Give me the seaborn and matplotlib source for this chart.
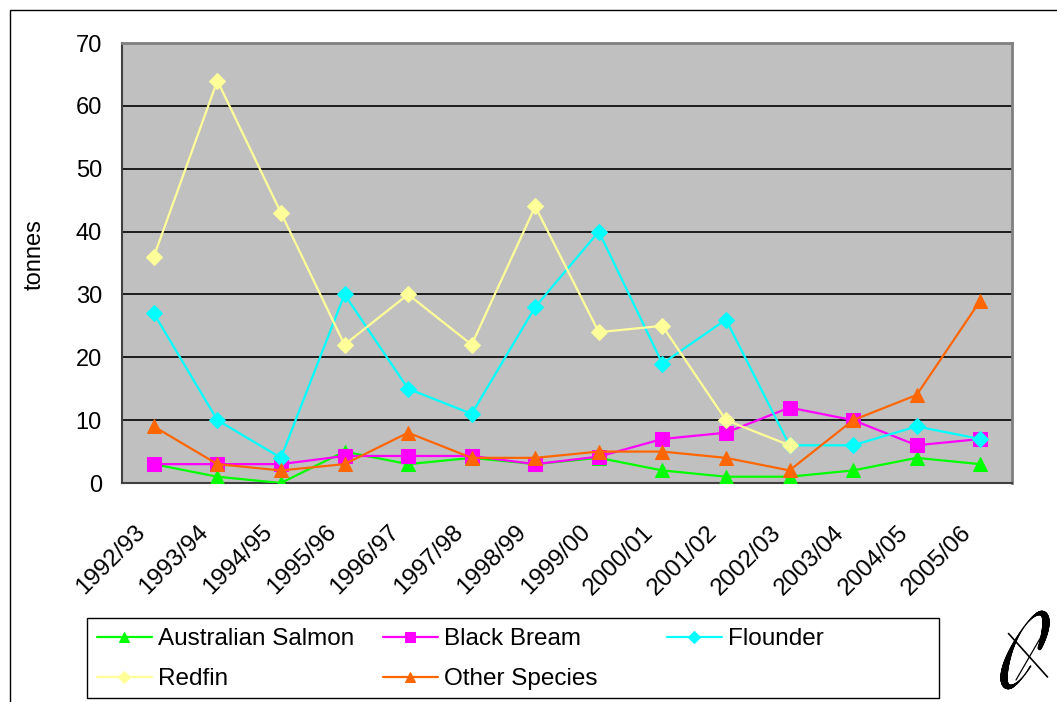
import numpy as np
import pandas as pd
import matplotlib
matplotlib.use("Agg")
import matplotlib.pyplot as plt
import matplotlib.patches as mpatches
import matplotlib.transforms as mtransforms
from matplotlib.collections import LineCollection
import seaborn as sns

seasons = ["1992/93", "1993/94", "1994/95", "1995/96", "1996/97", "1997/98", "1998/99",
           "1999/00", "2000/01", "2001/02", "2002/03", "2003/04", "2004/05", "2005/06"]
australian_salmon = [3, 1, 0, 5, 3, 4, 3, 4, 2, 1, 1, 2, 4, 3]
black_bream = [3, 3, 3, 4.3, 4.3, 4.3, 3, 4.2, 7, 8, 12, 10, 6, 7]
flounder = [27, 10, 4, 30, 15, 11, 28, 40, 19, 26, 6, 6, 9, 7]
redfin = [36, 64, 43, 22, 30, 22, 44, 24, 25, 10, 6, np.nan, np.nan, np.nan]
other_species = [9, 3, 2, 3, 8, 4, 4, 5, 5, 4, 2, 10, 14, 29]
yticks = [0, 10, 20, 30, 40, 50, 60, 70]

series = [
    ("Australian Salmon", australian_salmon, "#00FF00", "^"),
    ("Black Bream", black_bream, "#FF00FF", "s"),
    ("Flounder", flounder, "#00FFFF", "D"),
    ("Redfin", redfin, "#FFFF99", "D"),
    ("Other Species", other_species, "#FF6600", "^"),
]

sns.set_style("white")
plt.rcParams["font.family"] = ["Liberation Sans", "DejaVu Sans"]
plt.rcParams["text.color"] = "black"
plt.rcParams["xtick.color"] = "black"
plt.rcParams["ytick.color"] = "black"
plt.rcParams["axes.labelcolor"] = "black"

W, H = 1057, 702
fig = plt.figure(figsize=(W / 100, H / 100), dpi=100)
ax = fig.add_axes([122 / W, 1 - 483 / H, 890 / W, 440 / H])
ax.set_facecolor("#C0C0C0")

x = np.arange(len(seasons))
handles = {}
for name, vals, col, mk in series:
    df = pd.DataFrame({"x": x, "y": vals})
    sns.lineplot(data=df, x="x", y="y", ax=ax, color=col, marker=mk,
                 markersize=9.5 if mk != "D" else 8, markeredgecolor=col, linewidth=1.6,
                 label=name, legend=False, zorder=3)
    handles[name] = ax.lines[-1]

ax.set_xlim(-0.5, len(seasons) - 0.5)
ax.set_ylim(0, 70)
ax.set_yticks(yticks)
ax.set_yticklabels([str(v) for v in yticks], fontsize=17, color="black")
ax.yaxis.grid(True, color="black", linewidth=1.2)
ax.set_axisbelow(True)

ax.set_xticks(np.arange(-0.5, len(seasons), 1.0))
ax.set_xticklabels([])
ax.tick_params(axis="x", which="major", direction="out", length=6.5, color="#404040", width=1)
ax.tick_params(axis="y", direction="out", length=6.5, color="#404040", width=1, pad=8)

# rotated category labels (data x, just below the axis)
lab_tr = mtransforms.blended_transform_factory(ax.transData, ax.transAxes) + \
    mtransforms.ScaledTranslation(-12 / 100, -46 / 100, fig.dpi_scale_trans)
for i, s in enumerate(seasons):
    ax.text(i, 0, s, transform=lab_tr, rotation=45, rotation_mode="anchor",
            ha="right", va="center", fontsize=17.5, color="black")

ax.set_xlabel("")
ax.set_ylabel("")
fig.text(35 / W, 1 - 255 / H, "tonnes", rotation=90, ha="center", va="center",
         fontsize=17, color="black")

for side in ["top", "right"]:
    ax.spines[side].set_color("#808080")
    ax.spines[side].set_linewidth(2)
for side in ["left", "bottom"]:
    ax.spines[side].set_color("#404040")
    ax.spines[side].set_linewidth(1.5)

# legend: framed box with three fixed-width columns
fig.patches.append(mpatches.Rectangle((87 / W, 1 - 698 / H), 852 / W, 80 / H,
                                      transform=fig.transFigure, fill=False,
                                      edgecolor="black", linewidth=1, zorder=5))
columns = [(97, ["Australian Salmon", "Redfin"]),
           (383, ["Black Bream", "Other Species"]),
           (667, ["Flounder"])]
for xc, names in columns:
    leg = fig.legend([handles[n] for n in names], names, loc="upper left",
                     bbox_to_anchor=(xc / W, 1 - 628 / H), frameon=False, fontsize=17.5,
                     handlelength=2.25, handletextpad=0.25, borderaxespad=0, borderpad=0,
                     labelspacing=0.75, markerscale=0.75)
    for txt in leg.get_texts():
        txt.set_color("black")

# outer chart frame
fig.patches.append(mpatches.Rectangle((10 / W, -0.1), 1.2, 0.1 + 692 / H,
                                      transform=fig.transFigure, fill=False,
                                      edgecolor="black", linewidth=1))

# logo approximation
lax = fig.add_axes([995 / W, 4 / H, 60 / W, 96 / H])
lax.axis("off")
lax.set_xlim(-1, 1)
lax.set_ylim(-1.6, 1.6)
t = np.linspace(0.2, 2 * np.pi - 0.3, 300)
ex, ey = 0.42 * np.cos(t), 1.35 * np.sin(t)
ang = -0.45
px = ex * np.cos(ang) - ey * np.sin(ang)
py = ex * np.sin(ang) + ey * np.cos(ang)
pts = np.column_stack([px, py]).reshape(-1, 1, 2)
segs = np.concatenate([pts[:-1], pts[1:]], axis=1)
widths = 0.8 + 4.5 * np.abs(np.sin(t[:-1] * 1.0 + 0.6)) ** 2
lax.add_collection(LineCollection(segs, linewidths=widths, colors="black", capstyle="round"))
lax.plot([-0.55, 0.75], [0.55, -0.9], color="black", linewidth=1.2)
lax.plot([-0.3, 0.8], [-1.0, 0.9], color="black", linewidth=0.9)

fig.savefig("out.png", dpi=100)
